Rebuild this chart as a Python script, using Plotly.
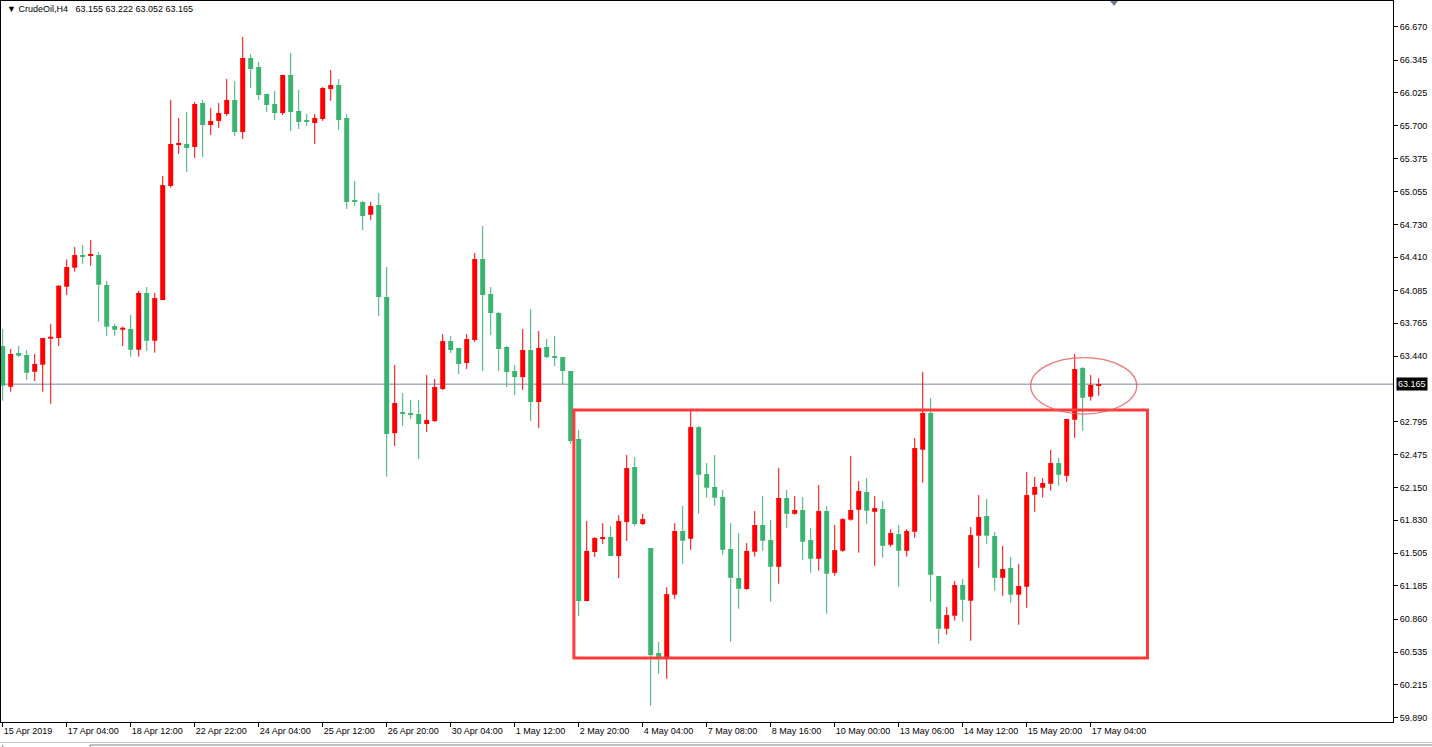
import plotly.graph_objects as go

# ---------------- data ----------------
symbol_title = "▼ CrudeOil,H4\u00a0\u00a0 63.155 63.222 63.052 63.165"

opens = [63.539, 63.140, 63.471, 63.451, 63.287, 63.356, 63.611, 63.618, 64.121, 64.308,
         64.432, 64.426, 64.432, 64.138, 63.736, 63.699, 63.706, 63.503, 64.060, 63.591,
         63.991, 65.110, 65.512, 65.522, 65.492, 65.924, 65.708, 65.748, 65.816, 65.954,
         65.640, 66.366, 66.277, 66.013, 65.914, 65.826, 66.199, 65.846, 65.748, 65.728,
         65.767, 66.062, 66.101, 65.777, 64.962, 64.953, 64.828, 64.923, 64.020, 62.685,
         62.892, 62.882, 62.872, 62.774, 62.803, 63.117, 63.588, 63.520, 63.373, 63.598,
         64.393, 64.050, 63.863, 63.530, 63.294, 63.235, 63.500, 62.990, 63.530, 63.441,
         63.431, 63.294, 62.627, 61.037, 61.518, 61.645, 61.665, 61.478, 61.812, 62.352,
         61.792, 61.557, 60.527, 60.487, 61.099, 61.724, 61.648, 62.744, 62.283, 62.156,
         62.058, 61.547, 61.263, 61.155, 61.521, 61.783, 61.635, 61.373, 62.048, 61.893,
         61.930, 61.635, 61.452, 61.920, 61.314, 61.530, 61.835, 61.933, 62.107, 61.913,
         61.940, 61.589, 61.694, 61.530, 61.717, 62.522, 62.882, 61.282, 60.765, 60.893,
         61.194, 61.040, 61.678, 61.871, 61.675, 61.265, 61.361, 61.099, 61.177, 62.080,
         62.149, 62.188, 62.391, 62.266, 62.816, 63.323, 63.042, 63.155]
highs = [63.706, 63.510, 63.539, 63.500, 63.461, 63.618, 63.755, 64.138, 64.390, 64.511,
         64.531, 64.580, 64.462, 64.177, 63.755, 63.729, 63.844, 64.082, 64.118, 64.060,
         65.208, 65.954, 65.777, 65.836, 65.934, 65.954, 65.875, 65.924, 66.160, 66.140,
         66.572, 66.405, 66.327, 66.013, 66.042, 66.199, 66.415, 66.052, 65.816, 65.816,
         66.081, 66.248, 66.160, 65.816, 65.159, 64.962, 64.953, 65.041, 64.315, 63.353,
         63.078, 63.010, 63.009, 63.255, 63.216, 63.657, 63.637, 63.520, 63.657, 64.452,
         64.717, 64.118, 63.873, 63.539, 63.353, 63.706, 63.902, 63.687, 63.608, 63.637,
         63.431, 63.294, 62.715, 61.822, 61.665, 61.802, 61.772, 61.881, 62.470, 62.450,
         61.891, 61.557, 60.635, 61.174, 61.802, 61.969, 62.901, 62.754, 62.391, 62.470,
         62.126, 61.802, 61.704, 61.606, 61.920, 62.067, 61.832, 62.342, 62.126, 62.067,
         62.058, 61.753, 62.175, 61.969, 61.783, 61.851, 62.460, 62.214, 62.244, 62.067,
         62.018, 61.743, 61.783, 61.743, 62.637, 63.284, 63.029, 61.282, 60.978, 61.233,
         61.253, 61.763, 62.077, 62.038, 61.714, 61.577, 61.469, 61.400, 62.303, 62.254,
         62.244, 62.519, 62.443, 62.823, 63.461, 63.333, 63.255, 63.222]
lows = [63.003, 63.091, 63.434, 63.206, 63.196, 63.091, 62.973, 63.539, 64.040, 64.269,
        64.347, 64.327, 63.778, 63.640, 63.640, 63.539, 63.434, 63.434, 63.493, 63.474,
        63.991, 65.093, 65.424, 65.247, 65.384, 65.394, 65.610, 65.679, 65.797, 65.600,
        65.571, 66.071, 65.954, 65.836, 65.757, 65.806, 65.649, 65.669, 65.698, 65.522,
        65.748, 65.944, 65.659, 64.884, 64.913, 64.678, 64.776, 63.834, 62.257, 62.558,
        62.754, 62.823, 62.430, 62.695, 62.794, 63.108, 63.471, 63.264, 63.314, 63.579,
        63.294, 63.647, 63.294, 63.137, 63.058, 63.108, 62.803, 62.735, 63.422, 63.343,
        63.166, 62.578, 60.890, 61.037, 61.469, 61.596, 61.478, 61.262, 61.626, 61.772,
        61.783, 60.009, 60.323, 60.274, 61.059, 61.403, 61.540, 61.893, 62.051, 61.972,
        61.491, 60.637, 60.961, 61.145, 61.472, 61.530, 61.030, 61.207, 61.756, 61.884,
        61.442, 61.314, 61.334, 60.912, 61.285, 61.521, 61.825, 61.511, 61.795, 61.383,
        61.462, 61.570, 61.177, 61.472, 61.658, 62.198, 61.030, 60.618, 60.706, 60.843,
        60.834, 60.647, 61.364, 61.599, 61.138, 61.089, 61.020, 60.804, 60.971, 61.913,
        62.051, 62.119, 62.168, 62.207, 62.639, 62.708, 63.003, 63.052]
closes = [63.150, 63.461, 63.444, 63.277, 63.363, 63.618, 63.631, 64.131, 64.315, 64.432,
          64.416, 64.435, 64.141, 63.729, 63.699, 63.719, 63.503, 64.060, 63.591, 64.010,
          65.119, 65.522, 65.522, 65.483, 65.914, 65.708, 65.748, 65.826, 65.954, 65.640,
          66.366, 66.258, 66.003, 65.905, 65.826, 66.199, 65.836, 65.738, 65.738, 65.777,
          66.071, 66.101, 65.757, 64.953, 64.953, 64.815, 64.913, 64.020, 62.676, 62.980,
          62.879, 62.862, 62.774, 62.813, 63.137, 63.588, 63.500, 63.363, 63.608, 64.393,
          64.040, 63.863, 63.510, 63.284, 63.235, 63.500, 62.990, 63.520, 63.431, 63.422,
          63.294, 62.607, 61.037, 61.528, 61.655, 61.665, 61.478, 61.822, 62.342, 61.792,
          61.841, 60.507, 60.487, 61.105, 61.724, 61.629, 62.744, 62.276, 62.149, 62.051,
          61.540, 61.265, 61.157, 61.528, 61.783, 61.629, 61.373, 62.048, 61.893, 61.930,
          61.619, 61.452, 61.920, 61.305, 61.537, 61.841, 61.930, 62.116, 61.923, 61.949,
          61.579, 61.704, 61.530, 61.724, 62.538, 62.882, 61.295, 60.765, 60.899, 61.194,
          61.049, 61.684, 61.861, 61.678, 61.265, 61.351, 61.099, 61.184, 62.077, 62.156,
          62.195, 62.391, 62.276, 62.823, 63.314, 63.032, 63.157, 63.165]

# time-axis labels (one every 8 bars)
time_label_bars = [0, 8, 16, 24, 32, 40, 48, 56, 64, 72, 80, 88, 96, 104, 112, 120, 128, 136]
time_labels = ["15 Apr 2019", "17 Apr 04:00", "18 Apr 12:00", "22 Apr 22:00", "24 Apr 04:00",
               "25 Apr 12:00", "26 Apr 20:00", "30 Apr 04:00", "1 May 12:00", "2 May 20:00",
               "4 May 04:00", "7 May 08:00", "8 May 16:00", "10 May 00:00", "13 May 06:00",
               "14 May 12:00", "15 May 20:00", "17 May 04:00"]

# price-axis labels
price_ticks = [66.670, 66.345, 66.025, 65.700, 65.375, 65.055, 64.730, 64.410, 64.085, 63.765,
               63.440, 62.795, 62.475, 62.150, 61.830, 61.505, 61.185, 60.860, 60.535,
               60.215, 59.890]

current_price = 63.165

# drawn objects: consolidation range box and highlight ellipse
range_box_bars = (71.4, 143.1)
range_box_prices = (60.477, 62.911)
ellipse_bars = (128.5, 141.75)
ellipse_prices = (62.872, 63.425)

# ---------------- styling ----------------
UP = "#FF0000"
DOWN = "#3CB371"
FONT = "Liberation Sans, Arial, sans-serif"

n = len(opens)
xs = list(range(n))
colors = [UP if c >= o else DOWN for o, c in zip(opens, closes)]
bases = [min(o, c) for o, c in zip(opens, closes)]
heights = [max(abs(c - o), 0.011) for o, c in zip(opens, closes)]

fig = go.Figure()

# wicks
for col in (UP, DOWN):
    wx, wy = [], []
    for i in xs:
        if colors[i] == col:
            wx += [i, i, None]
            wy += [lows[i], highs[i], None]
    fig.add_trace(go.Scatter(x=wx, y=wy, mode="lines",
                             line=dict(color=col, width=1), hoverinfo="skip",
                             showlegend=False))

# bodies
fig.add_trace(go.Bar(x=xs, y=heights, base=bases, width=0.625,
                     marker=dict(color=colors, line=dict(width=0)),
                     showlegend=False,
                     customdata=list(zip(opens, highs, lows, closes)),
                     hovertemplate="O %{customdata[0]:.3f}<br>H %{customdata[1]:.3f}"
                                   "<br>L %{customdata[2]:.3f}<br>C %{customdata[3]:.3f}<extra></extra>"))

shapes = [
    # current price line
    dict(type="line", xref="paper", yref="y", x0=0, x1=1, y0=current_price, y1=current_price,
         line=dict(color="#7A8896", width=1), layer="below"),
    # range rectangle
    dict(type="rect", xref="x", yref="y",
         x0=range_box_bars[0], x1=range_box_bars[1],
         y0=range_box_prices[0], y1=range_box_prices[1],
         line=dict(color="#FF3B3B", width=3), fillcolor="rgba(0,0,0,0)", layer="above"),
    # ellipse
    dict(type="circle", xref="x", yref="y",
         x0=ellipse_bars[0], x1=ellipse_bars[1],
         y0=ellipse_prices[0], y1=ellipse_prices[1],
         line=dict(color="rgba(232,95,95,0.85)", width=1.3), layer="above"),
    # small shift marker at top
    dict(type="path", xref="paper", yref="paper",
         path="M 0.7967 1 L 0.8024 1 L 0.7996 0.9931 Z",
         fillcolor="#708090", line=dict(width=0)),
    # bottom window strip
    dict(type="line", xref="paper", yref="paper", x0=-0.001, x1=1.03, y0=-0.0284, y1=-0.0284,
         line=dict(color="#C8C8C8", width=1)),
    dict(type="line", xref="paper", yref="paper", x0=0.064, x1=1.03, y0=-0.0319, y1=-0.0319,
         line=dict(color="#808080", width=1)),
    dict(type="line", xref="paper", yref="paper", x0=0.064, x1=0.064, y0=-0.0319, y1=-0.036,
         line=dict(color="#808080", width=1)),
    dict(type="line", xref="paper", yref="paper", x0=0.0013, x1=0.0013, y0=-0.0319, y1=-0.036,
         line=dict(color="#808080", width=1)),
]

annotations = [
    dict(text=symbol_title, xref="paper", yref="paper", x=0, y=1, xanchor="left", yanchor="top",
         xshift=4, yshift=-1, showarrow=False, font=dict(family=FONT, size=9, color="#000000")),
    dict(text=f"{current_price:.3f}", xref="paper", yref="y", x=1, y=current_price,
         xanchor="left", yanchor="middle", xshift=3, showarrow=False,
         bgcolor="#000000", borderpad=1,
         font=dict(family=FONT, size=9, color="#FFFFFF")),
]

fig.update_layout(
    width=1432, height=747,
    margin=dict(l=1, r=39, t=1, b=25),
    paper_bgcolor="white", plot_bgcolor="white",
    showlegend=False,
    shapes=shapes, annotations=annotations,
    xaxis=dict(range=[-0.2125, 173.7875], showgrid=False, zeroline=False,
               showline=True, linecolor="#000000", linewidth=1, mirror=True,
               ticks="outside", ticklen=4, tickcolor="#000000",
               tickvals=time_label_bars, ticktext=time_labels,
               ticklabelposition="outside right",
               tickfont=dict(family=FONT, size=9, color="#000000")),
    yaxis=dict(range=[59.850, 66.925], side="right", showgrid=False, zeroline=False,
               showline=True, linecolor="#000000", linewidth=1, mirror=True,
               ticks="outside", ticklen=4, tickcolor="#000000",
               tickvals=price_ticks, ticktext=[f"{v:.3f}" for v in price_ticks],
               tickfont=dict(family=FONT, size=9, color="#000000")),
)

fig.write_html(
    "out.html",
    config={"displayModeBar": False},
    post_script="document.body.style.margin='0px';document.body.style.overflow='hidden';",
)
